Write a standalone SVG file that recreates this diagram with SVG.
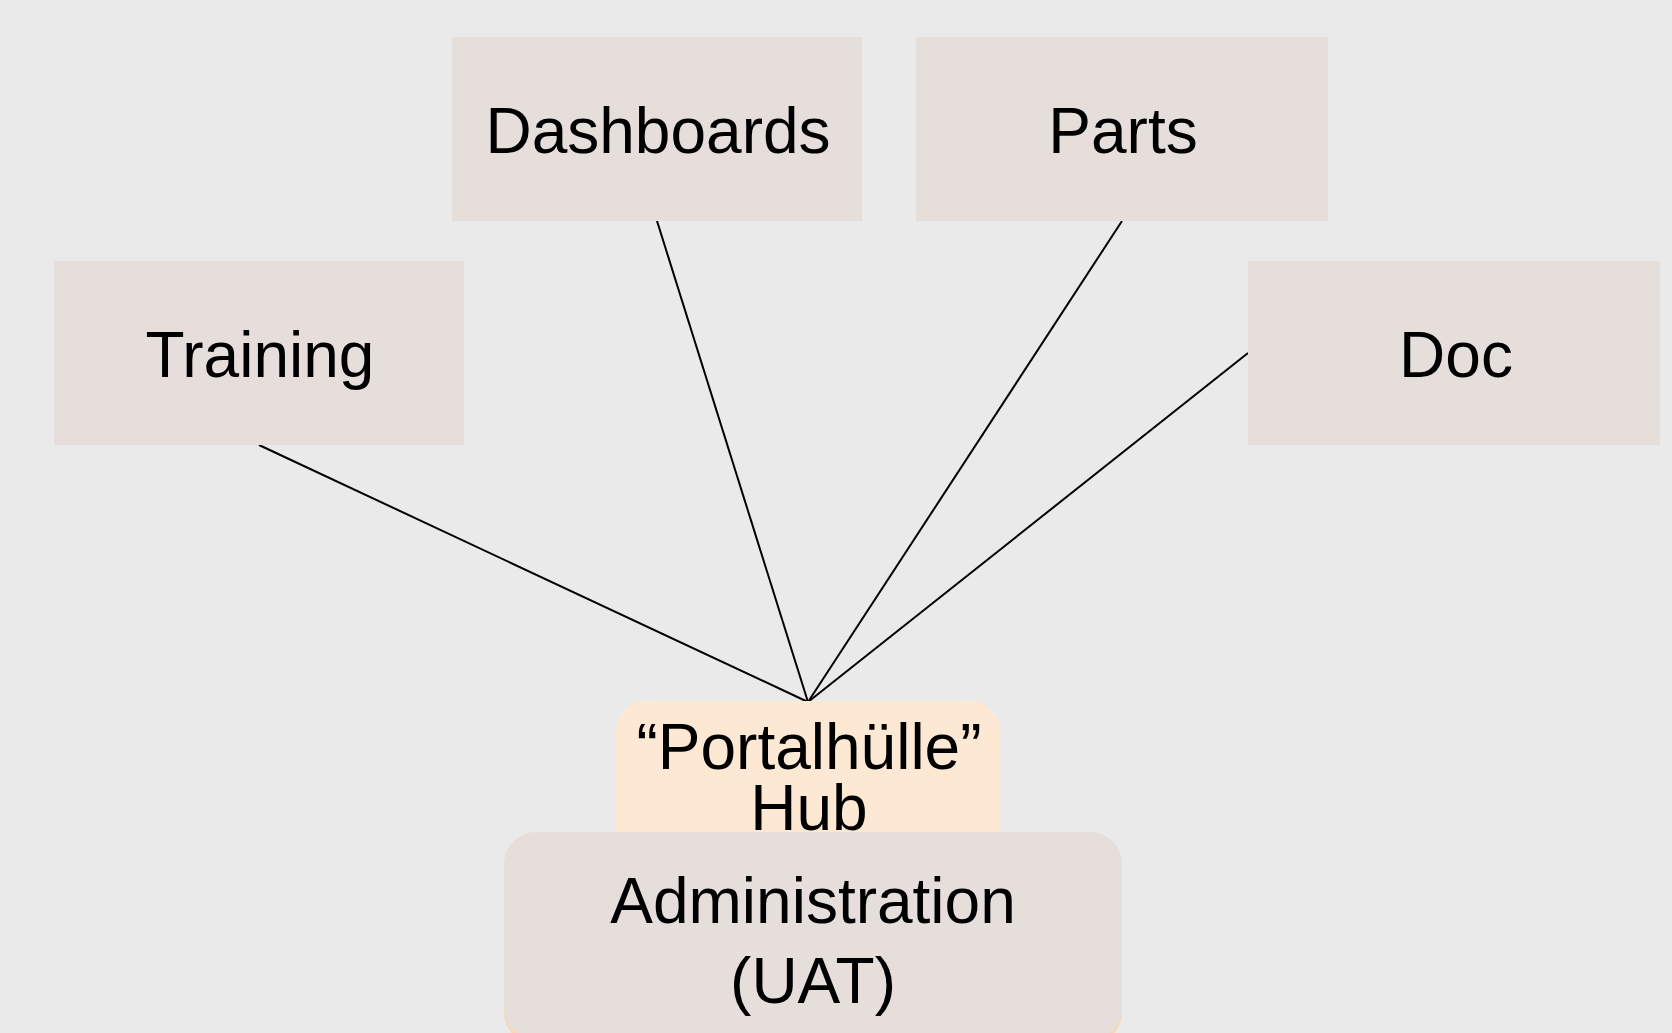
<svg xmlns="http://www.w3.org/2000/svg" width="1672" height="1033" viewBox="0 0 1672 1033">
  <style>
    .box { fill: #E6DEDB; }
    .hub { fill: #FDE9D3; }
    .label { font-family: "Liberation Sans", Arial, sans-serif; font-size: 64px; fill: #000; text-anchor: middle; }
    .edge { stroke: #000; stroke-width: 2; fill: none; }
  </style>
  <rect width="1672" height="1033" fill="#EAEAEA"/>

  <g id="connectors">
    <line class="edge" x1="259" y1="445" x2="808" y2="702"/>
    <line class="edge" x1="657" y1="221" x2="808" y2="702"/>
    <line class="edge" x1="1122" y1="221" x2="808" y2="702"/>
    <line class="edge" x1="1248" y1="353" x2="808" y2="702"/>
  </g>

  <g id="dashboards">
    <rect class="box" x="452" y="37" width="410" height="184"/>
    <text class="label" x="658" y="153">Dashboards</text>
  </g>
  <g id="parts">
    <rect class="box" x="916" y="37" width="412" height="184"/>
    <text class="label" x="1123" y="153">Parts</text>
  </g>
  <g id="training">
    <rect class="box" x="54" y="261" width="410" height="184"/>
    <text class="label" x="260" y="377">Training</text>
  </g>
  <g id="doc">
    <rect class="box" x="1248" y="261" width="412" height="184"/>
    <text class="label" x="1456" y="377">Doc</text>
  </g>

  <g id="hub">
    <rect class="hub" x="616" y="701" width="384" height="200" rx="30" ry="30"/>
    <text class="label"><tspan x="809" y="769">“Portalhülle”</tspan><tspan x="809" y="830">Hub</tspan></text>
  </g>

  <g id="administration">
    <rect x="504" y="836" width="618" height="208" rx="32" ry="32" fill="#FBD6B0"/>
    <rect class="box" x="504" y="832" width="618" height="208" rx="32" ry="32"/>
    <text class="label"><tspan x="813" y="923">Administration</tspan><tspan x="813" y="1003">(UAT)</tspan></text>
  </g>
</svg>
